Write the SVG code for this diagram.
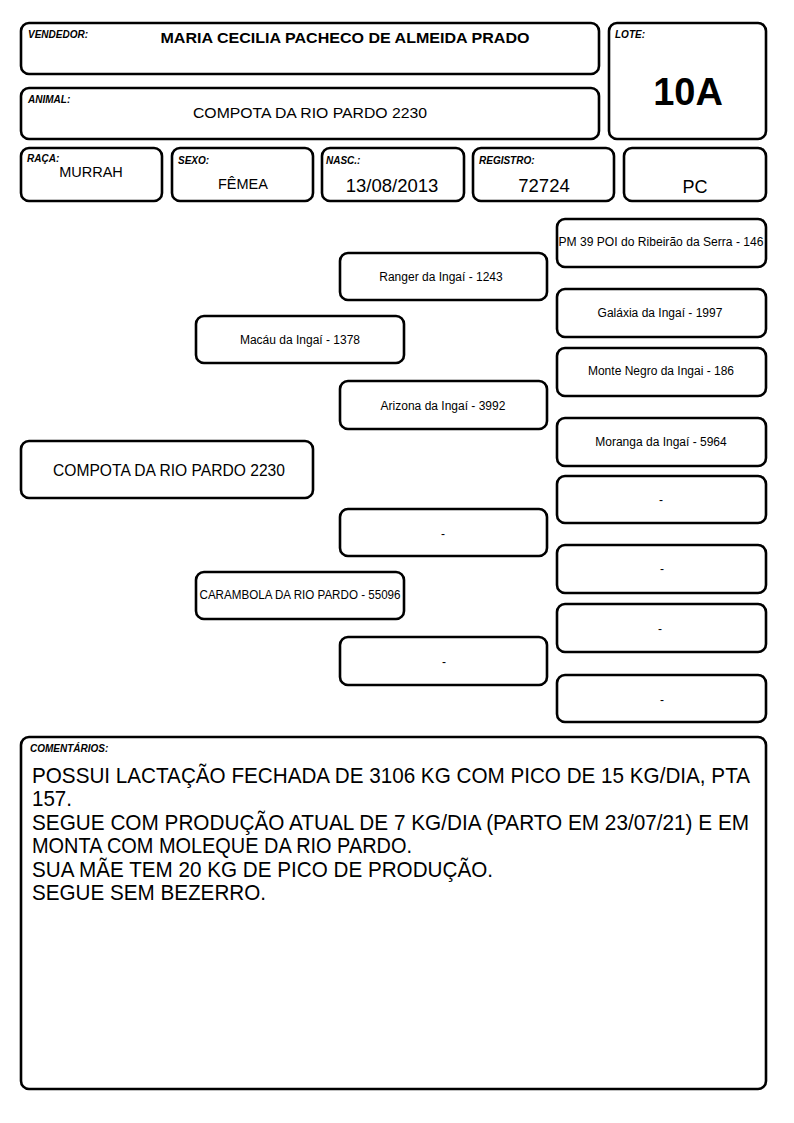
<svg xmlns="http://www.w3.org/2000/svg" width="794" height="1123" viewBox="0 0 794 1123">
<style>
.b{fill:#fff;stroke:#000;stroke-width:2.6}
.lbl{font-family:"Liberation Sans",Arial,sans-serif;font-size:10px;font-weight:bold;font-style:italic;fill:#000}
.t{font-family:"Liberation Sans",Arial,sans-serif;fill:#000;text-anchor:middle}
.p{font-family:"Liberation Sans",Arial,sans-serif;font-size:12px;fill:#000;text-anchor:middle}
.c{font-family:"Liberation Sans",Arial,sans-serif;font-size:20px;fill:#000}
</style>
<rect width="794" height="1123" fill="#fff"/>
<g id="vendedor"><rect class="b" x="21" y="23" width="578" height="51" rx="8"/><text class="lbl" x="28" y="38">VENDEDOR:</text><text class="t" x="345" y="43" font-size="15" font-weight="bold" textLength="369" lengthAdjust="spacingAndGlyphs">MARIA CECILIA PACHECO DE ALMEIDA PRADO</text></g>
<g id="animal"><rect class="b" x="21" y="88" width="578" height="51" rx="8"/><text class="lbl" x="28" y="103">ANIMAL:</text><text class="t" x="310" y="118" font-size="15.5" textLength="234" lengthAdjust="spacingAndGlyphs">COMPOTA DA RIO PARDO 2230</text></g>
<g id="lote"><rect class="b" x="609" y="23" width="157" height="116" rx="8"/><text class="lbl" x="615" y="38">LOTE:</text><text class="t" x="688" y="105" font-size="38" font-weight="bold">10A</text></g>
<g id="raca"><rect class="b" x="21" y="148" width="141" height="53" rx="8"/><text class="lbl" x="27" y="162">RAÇA:</text><text class="t" x="91" y="177" font-size="14.5">MURRAH</text></g>
<g id="sexo"><rect class="b" x="172" y="148" width="141" height="53" rx="8"/><text class="lbl" x="178" y="164">SEXO:</text><text class="t" x="243" y="189" font-size="14.5">FÊMEA</text></g>
<g id="nasc"><rect class="b" x="322" y="148" width="142" height="53" rx="8"/><text class="lbl" x="326" y="164">NASC.:</text><text class="t" x="392" y="192" font-size="18.5">13/08/2013</text></g>
<g id="registro"><rect class="b" x="473" y="148" width="141" height="53" rx="8"/><text class="lbl" x="479" y="164">REGISTRO:</text><text class="t" x="544" y="192" font-size="18.5">72724</text></g>
<g id="pc"><rect class="b" x="624" y="148" width="142" height="53" rx="8"/><text class="t" x="695" y="193" font-size="18">PC</text></g>
<g id="connectors"></g>
<g id="main"><rect class="b" x="21" y="441" width="292" height="57" rx="8"/><text class="t" x="169" y="476" font-size="16" textLength="232" lengthAdjust="spacingAndGlyphs">COMPOTA DA RIO PARDO 2230</text></g>
<g id="pai"><rect class="b" x="196" y="316" width="208" height="47" rx="8"/><text class="p" x="300" y="344">Macáu da Ingaí - 1378</text></g>
<g id="mae"><rect class="b" x="196" y="572" width="208" height="47" rx="8"/><text class="p" x="300" y="599" font-size="11.5" textLength="201" lengthAdjust="spacingAndGlyphs">CARAMBOLA DA RIO PARDO - 55096</text></g>
<g id="avo1"><rect class="b" x="340" y="253" width="207" height="47" rx="8"/><text class="p" x="441" y="281">Ranger da Ingaí - 1243</text></g>
<g id="avo2"><rect class="b" x="340" y="381" width="207" height="48" rx="8"/><text class="p" x="443" y="410">Arizona da Ingaí - 3992</text></g>
<g id="avo3"><rect class="b" x="340" y="509" width="207" height="47" rx="8"/><text class="p" x="443" y="538">-</text></g>
<g id="avo4"><rect class="b" x="340" y="637" width="207" height="48" rx="8"/><text class="p" x="444" y="666">-</text></g>
<g id="bis1"><rect class="b" x="557" y="219" width="209" height="48" rx="8"/><text class="p" x="661" y="246" textLength="205" lengthAdjust="spacingAndGlyphs">PM 39 POI do Ribeirão da Serra - 146</text></g>
<g id="bis2"><rect class="b" x="557" y="289" width="209" height="48" rx="8"/><text class="p" x="660" y="317">Galáxia da Ingaí - 1997</text></g>
<g id="bis3"><rect class="b" x="557" y="348" width="209" height="48" rx="8"/><text class="p" x="661" y="375">Monte Negro da Ingai - 186</text></g>
<g id="bis4"><rect class="b" x="557" y="418" width="209" height="48" rx="8"/><text class="p" x="661" y="446">Moranga da Ingaí - 5964</text></g>
<g id="bis5"><rect class="b" x="557" y="476" width="209" height="47" rx="8"/><text class="p" x="661" y="504">-</text></g>
<g id="bis6"><rect class="b" x="557" y="545" width="209" height="48" rx="8"/><text class="p" x="662" y="573">-</text></g>
<g id="bis7"><rect class="b" x="557" y="604" width="209" height="48" rx="8"/><text class="p" x="660" y="633">-</text></g>
<g id="bis8"><rect class="b" x="557" y="675" width="209" height="47" rx="8"/><text class="p" x="662" y="704">-</text></g>
<g id="comentarios"><rect class="b" x="21" y="737" width="745" height="352" rx="8"/><text class="lbl" x="30" y="752" font-size="9.5">COMENTÁRIOS:</text>
<text class="c" transform="translate(32,783) scale(1,1.1)" x="0" y="0" textLength="718" lengthAdjust="spacingAndGlyphs">POSSUI LACTAÇÃO FECHADA DE 3106 KG COM PICO DE 15 KG/DIA, PTA</text>
<text class="c" transform="translate(32,806) scale(1,1.1)" x="0" y="0" textLength="40" lengthAdjust="spacingAndGlyphs">157.</text>
<text class="c" transform="translate(32,830) scale(1,1.1)" x="0" y="0" textLength="717" lengthAdjust="spacingAndGlyphs">SEGUE COM PRODUÇÃO ATUAL DE 7 KG/DIA (PARTO EM 23/07/21) E EM</text>
<text class="c" transform="translate(32,853) scale(1,1.1)" x="0" y="0" textLength="380" lengthAdjust="spacingAndGlyphs">MONTA COM MOLEQUE DA RIO PARDO.</text>
<text class="c" transform="translate(32,877) scale(1,1.1)" x="0" y="0" textLength="461" lengthAdjust="spacingAndGlyphs">SUA MÃE TEM 20 KG DE PICO DE PRODUÇÃO.</text>
<text class="c" transform="translate(32,900) scale(1,1.1)" x="0" y="0" textLength="234" lengthAdjust="spacingAndGlyphs">SEGUE SEM BEZERRO.</text></g>
</svg>
